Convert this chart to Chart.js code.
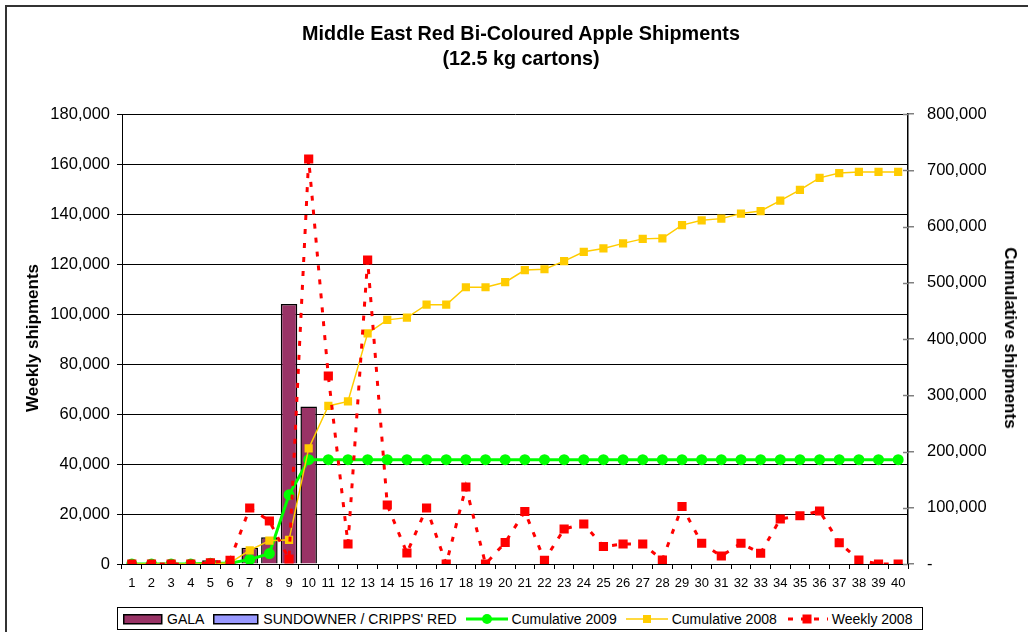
<!DOCTYPE html>
<html><head><meta charset="utf-8">
<script src="https://cdn.jsdelivr.net/npm/chart.js@4.4.1/dist/chart.umd.min.js"></script>
<style>
html,body{margin:0;padding:0;width:1028px;height:632px;overflow:hidden;background:#fff;font-family:"Liberation Sans",Arial,sans-serif;}
#frame{position:absolute;left:5px;top:5px;width:1200px;height:900px;border:2px solid #333;box-sizing:border-box;}
#wrap{position:absolute;left:0;top:0;width:1028px;height:632px;}
.t{position:absolute;white-space:nowrap;color:#000;}
#title{left:0;width:1042px;top:21px;text-align:center;font-weight:bold;font-size:19.8px;line-height:25px;}
#ytl{left:33px;top:338px;transform:translate(-50%,-50%) rotate(-90deg);font-weight:bold;font-size:17px;}
#ytr{left:1010px;top:338px;transform:translate(-50%,-50%) rotate(90deg);font-weight:bold;font-size:17px;}
#legend{position:absolute;left:117px;top:607px;width:806px;height:23px;border:1px solid #000;box-sizing:border-box;background:#fff;font-size:14px;display:flex;align-items:center;padding-left:5px;}
#legend .it{display:flex;align-items:center;margin-right:9px;}
#legend svg{margin-right:4px;}
</style></head>
<body>
<div id="frame"></div>
<div id="wrap"><canvas id="c" width="1028" height="632"></canvas></div>
<div class="t" id="title">Middle East Red Bi-Coloured Apple Shipments<br>(12.5 kg cartons)</div>
<div class="t" id="ytl">Weekly shipments</div>
<div class="t" id="ytr">Cumulative shipments</div>
<div id="legend">
 <span class="it"><svg width="40" height="12"><rect x="0.75" y="1.75" width="38" height="9" fill="#993366" stroke="#000" stroke-width="1.5"/></svg>GALA</span>
 <span class="it"><svg width="46" height="12"><rect x="0.75" y="1.75" width="44" height="9" fill="#9999FF" stroke="#000" stroke-width="1.5"/></svg>SUNDOWNER / CRIPPS' RED</span>
 <span class="it"><svg width="42" height="12"><line x1="0" y1="6" x2="42" y2="6" stroke="#00FF00" stroke-width="3"/><circle cx="21" cy="6" r="5" fill="#00FF00"/></svg>Cumulative 2009</span>
 <span class="it"><svg width="42" height="12"><line x1="0" y1="6" x2="42" y2="6" stroke="#FFCC00" stroke-width="1.5"/><rect x="17" y="2" width="8" height="8" fill="#FFCC00"/></svg>Cumulative 2008</span>
 <span class="it"><svg width="42" height="12"><line x1="2" y1="6" x2="42" y2="6" stroke="#FF0000" stroke-width="3" stroke-dasharray="5 8"/><rect x="16.5" y="1.5" width="9" height="9" fill="#FF0000"/></svg>Weekly 2008</span>
</div>
<script>
const weeks = ['1','2','3','4','5','6','7','8','9','10','11','12','13','14','15','16','17','18','19','20','21','22','23','24','25','26','27','28','29','30','31','32','33','34','35','36','37','38','39','40'];
const gala = [0,0,0,0,1500,0,6500,10700,104000,63000,0,0,0,0,0,0,0,0,0,0,0,0,0,0,0,0,0,0,0,0,0,0,0,0,0,0,0,0,0,0];
const sundowner = [0,0,0,0,0,0,0,0,0,0,0,0,0,0,0,0,0,0,0,0,0,0,0,0,0,0,0,0,0,0,0,0,0,0,0,0,0,0,0,0];
const cumulative2009 = [0,0,0,0,1500,1500,8000,18500,123000,185500,185500,185500,185500,185500,185500,185500,185500,185500,185500,185500,185500,185500,185500,185500,185500,185500,185500,185500,185500,185500,185500,185500,185500,185500,185500,185500,185500,185500,185500,185500];
const cumulative2008 = [0,0,0,0,500,2000,24400,41500,43000,205500,281000,289000,410000,434000,438000,461000,461000,492000,492000,501000,522500,524000,538500,555000,561000,570000,578000,579000,602500,611000,614000,623000,627500,646000,665000,686500,695000,697000,697000,697000];
const weekly2008 = [0,0,0,0,500,1500,22400,17200,2000,162000,75200,8000,121600,23600,4400,22400,0,30800,0,8600,21000,1500,14000,16000,7000,8000,8000,1600,23000,8300,3200,8300,4300,18000,19300,21200,8500,1600,0,0];
const leftTicks = [0,20000,40000,60000,80000,100000,120000,140000,160000,180000];
const rightTicks = [0,100000,200000,300000,400000,500000,600000,700000,800000];

const fmt = v => Number(v).toLocaleString('en-US');
const FONT = '"Liberation Sans", Arial, sans-serif';

const innerTicks = {
  id:'innerTicks',
  afterDraw(chart){
    const s = chart.scales.y1, ctx = chart.ctx, x = chart.chartArea.right;
    ctx.save(); ctx.strokeStyle = '#808080'; ctx.lineWidth = 1.5;
    s.ticks.forEach(t => { const y = Math.round(s.getPixelForValue(t.value)) + 0.5; ctx.beginPath(); ctx.moveTo(x - 5, y); ctx.lineTo(x, y); ctx.stroke(); });
    ctx.restore();
  }
};

new Chart(document.getElementById('c'), {
  data: {
    labels: weeks,
    datasets: [
      {type:'line', label:'Weekly 2008', data: weekly2008, yAxisID:'y', borderColor:'#FF0000', backgroundColor:'#FF0000', borderWidth:3, borderDash:[5,9], pointStyle:'rect', pointRadius:6.5, pointBorderWidth:0, tension:0, order:0},
      {type:'line', label:'Cumulative 2008', data: cumulative2008, yAxisID:'y1', borderColor:'#FFCC00', backgroundColor:'#FFCC00', borderWidth:1.5, pointStyle:'rect', pointRadius:5.8, pointBorderWidth:0, tension:0, order:1},
      {type:'line', label:'Cumulative 2009', data: cumulative2009, yAxisID:'y1', borderColor:'#00FF00', backgroundColor:'#00FF00', borderWidth:3, pointStyle:'circle', pointRadius:5.5, pointBorderWidth:0, tension:0, order:2},
      {type:'bar', label:'GALA', data: gala, yAxisID:'y', backgroundColor:'#993366', borderColor:'#000', borderWidth: c => c.raw ? 1.5 : 0, grouped:false, categoryPercentage:1, barPercentage:0.84, order:3},
      {type:'bar', label:"SUNDOWNER / CRIPPS' RED", data: sundowner, yAxisID:'y', backgroundColor:'#9999FF', borderColor:'#000', borderWidth: c => c.raw ? 1.5 : 0, grouped:false, categoryPercentage:1, barPercentage:0.84, order:4}
    ]
  },
  options: {
    responsive:false, animation:false,
    layout:{padding:{top:114,bottom:38,left:0,right:0}, autoPadding:false},
    plugins:{legend:{display:false}, title:{display:false}, tooltip:{enabled:false}},
    scales:{
      x:{type:'category', offset:true,
         grid:{offset:true, drawOnChartArea:false, drawTicks:true, tickLength:5, color:'#000'},
         border:{display:true, color:'#000', width:1},
         ticks:{font:{family:FONT,size:13}, color:'#000', padding:7, maxRotation:0, autoSkip:false},
         afterFit:s=>{s.height=30;}},
      y:{position:'left', min:0, max:180000,
         afterBuildTicks: s => { s.ticks = leftTicks.map(v=>({value:v})); },
         grid:{color:'#000', lineWidth:1, tickLength:5, drawTicks:true},
         border:{display:true, color:'#000', width:1},
         ticks:{font:{family:FONT,size:16.5}, color:'#000', padding:7, callback:v=>fmt(v)},
         afterFit:s=>{s.width=122;}},
      y1:{position:'right', min:0, max:800000,
         afterBuildTicks: s => { s.ticks = rightTicks.map(v=>({value:v})); },
         grid:{drawOnChartArea:false, color:'#808080', lineWidth:1.5, tickLength:6, drawTicks:true},
         border:{display:true, color:'#000', width:1.5},
         ticks:{font:{family:FONT,size:16.5}, color:'#000', padding:13, callback:v=> v===0 ? '-' : fmt(v)},
         afterFit:s=>{s.width=120;}}
    }
  },
  plugins:[innerTicks]
});
</script>
</body></html>
